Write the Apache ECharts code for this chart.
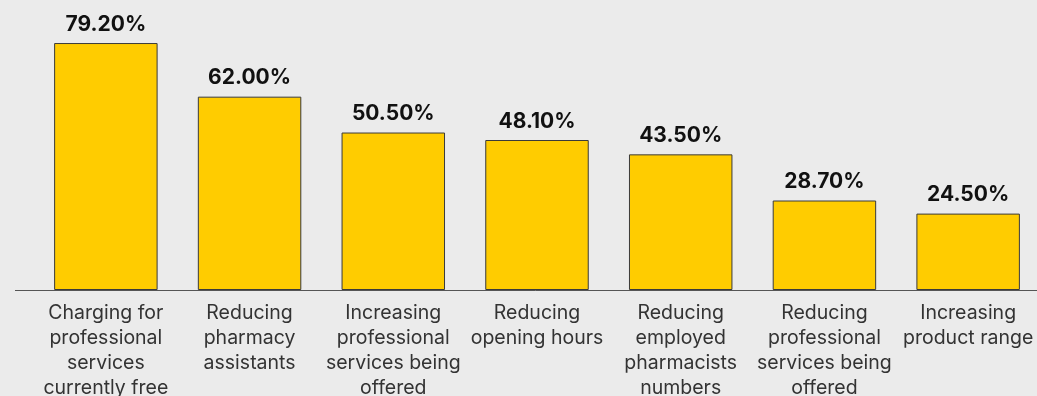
<!DOCTYPE html>
<html><head><meta charset="utf-8">
<script src="https://cdn.jsdelivr.net/npm/echarts@6/dist/echarts.min.js"></script>
<style>html,body{margin:0;padding:0;background:#ebebeb;}#c{width:1037px;height:396px;}</style>
</head><body><div id="c"></div>
<script>
const categories = [
  "Charging for\nprofessional\nservices\ncurrently free",
  "Reducing\npharmacy\nassistants",
  "Increasing\nprofessional\nservices being\noffered",
  "Reducing\nopening hours",
  "Reducing\nemployed\npharmacists\nnumbers",
  "Reducing\nprofessional\nservices being\noffered",
  "Increasing\nproduct range"
];
const values = [79.2, 62.0, 50.5, 48.1, 43.5, 28.7, 24.5];

const chart = echarts.init(document.getElementById('c'), null, {renderer: 'canvas'});
chart.setOption({
  backgroundColor: '#ebebeb',
  animation: false,
  grid: {left: 34, right: -3, top: 0, bottom: 106, containLabel: false, outerBoundsMode: 'none'},
  xAxis: {
    type: 'category', data: categories,
    axisLine: {show: true, lineStyle: {color: '#555', width: 1}},
    axisTick: {show: false},
    axisLabel: {interval: 0, color: '#333', fontSize: 19.5, fontFamily: 'Inter', lineHeight: 25, margin: 11}
  },
  yAxis: {type: 'value', min: 0, max: 93, show: false, splitLine: {show: false}},
  series: [{
    type: 'bar', data: values, barWidth: '72%',
    itemStyle: {color: '#ffcc00', borderColor: '#3a3a3a', borderWidth: 1},
    label: {show: true, position: 'top', distance: 8, color: '#111', fontSize: 21, fontWeight: 'bold', fontFamily: 'Inter',
      formatter: p => p.value.toFixed(2) + '%'}
  }],
  graphic: [{type: 'line', shape: {x1: 15, y1: 290.5, x2: 34, y2: 290.5}, style: {stroke: '#555', lineWidth: 1}}]
});
</script></body></html>
